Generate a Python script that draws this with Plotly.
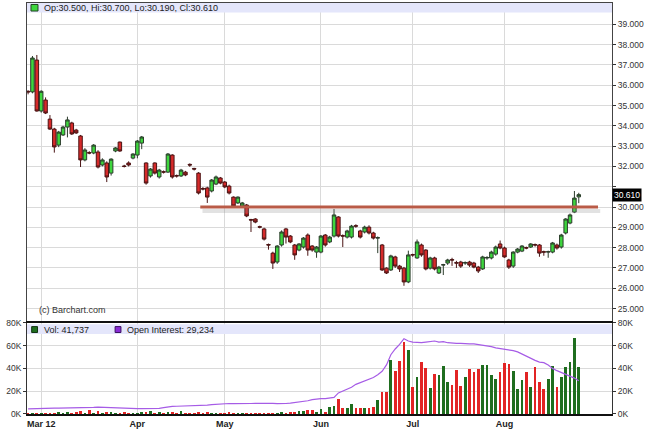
import numpy as np
import pandas as pd
import plotly.graph_objects as go

# trading days shown (Feb 27 - Aug 24 2012, exchange holidays removed)
trade_days = pd.bdate_range('2012-02-27', '2012-08-24')
trade_days = trade_days.drop(pd.to_datetime(['2012-04-06', '2012-05-28', '2012-07-04']))

month_starts = ['2012-03-01', '2012-04-02', '2012-05-01', '2012-06-01', '2012-07-02', '2012-08-01']
month_labels = ['Mar 12', 'Apr', 'May', 'Jun', 'Jul', 'Aug']

price_ticks = [25, 26, 27, 28, 29, 30, 31, 32, 33, 34, 35, 36, 37, 38, 39]
vol_ticks = [0, 20, 40, 60, 80]

# daily prices
opens = [35.70, 35.67, 37.24, 34.73, 35.27, 34.33, 33.84, 33.05, 33.55, 33.94,
         34.14, 33.79, 33.50, 32.32, 32.68, 32.66, 32.71, 32.07, 32.17, 31.67,
         32.76, 33.20, 32.02, 32.17, 32.41, 32.56, 33.15, 32.17, 31.53, 32.17,
         31.48, 31.74, 31.72, 32.56, 31.55, 31.53, 31.72, 32.10, 31.90, 31.67,
         30.91, 30.94, 30.79, 31.13, 31.43, 31.23, 31.03, 30.49, 30.20, 30.05,
         30.10, 29.38, 29.41, 29.03, 28.92, 28.15, 27.73, 27.29, 28.13, 28.92,
         28.57, 28.13, 27.88, 28.03, 28.62, 28.08, 27.78, 27.78, 28.62, 28.28,
         28.57, 29.51, 28.59, 28.52, 28.52, 29.08, 28.82, 28.77, 29.01, 28.72,
         28.47, 28.13, 26.99, 26.90, 27.54, 27.09, 26.99, 26.31, 27.66, 27.49,
         28.13, 27.88, 26.99, 27.49, 26.75, 27.14, 27.24, 27.41, 27.26, 27.29,
         27.24, 27.29, 27.24, 27.04, 26.95, 27.49, 27.49, 27.68, 28.18, 27.98,
         27.39, 27.09, 27.78, 27.83, 28.00, 28.03, 28.15, 28.13, 27.80, 27.78,
         27.78, 28.13, 28.03, 28.72, 29.21, 29.75, 30.50]
highs = [35.75, 37.44, 37.49, 35.75, 35.40, 34.53, 33.90, 33.75, 34.00, 34.45,
         34.20, 33.85, 33.55, 32.90, 32.75, 33.10, 32.80, 32.40, 32.25, 32.40,
         32.95, 33.22, 32.08, 32.25, 32.65, 33.30, 33.50, 32.20, 31.92, 32.20,
         31.88, 31.80, 32.66, 32.60, 31.60, 31.88, 31.78, 32.15, 31.93, 31.72,
         30.98, 31.00, 31.38, 31.55, 31.48, 31.28, 31.10, 30.52, 30.52, 30.25,
         30.15, 29.42, 29.45, 29.08, 28.98, 28.20, 27.80, 28.12, 28.85, 28.97,
         28.62, 28.18, 28.22, 28.52, 28.70, 28.12, 28.08, 28.62, 28.67, 28.58,
         29.90, 29.55, 28.65, 28.88, 29.12, 29.15, 28.88, 29.08, 29.10, 28.78,
         28.55, 28.18, 27.03, 27.65, 27.60, 27.15, 27.05, 27.85, 27.70, 28.40,
         28.20, 27.92, 27.55, 27.55, 27.10, 27.20, 27.45, 27.50, 27.35, 27.35,
         27.32, 27.35, 27.30, 27.10, 27.60, 27.58, 27.85, 28.10, 28.35, 28.05,
         27.45, 27.82, 27.98, 28.12, 28.05, 28.22, 28.20, 28.18, 27.85, 27.85,
         28.28, 28.20, 28.68, 29.45, 29.68, 30.79, 30.70]
lows = [35.55, 35.60, 34.70, 34.65, 34.58, 33.80, 32.68, 32.95, 33.50, 33.43,
        33.55, 33.60, 31.97, 32.25, 32.60, 32.60, 31.90, 32.00, 31.23, 31.55,
        32.70, 32.72, 31.95, 32.00, 32.35, 32.40, 32.85, 31.10, 31.45, 31.60,
        31.40, 31.65, 31.68, 31.40, 31.45, 31.48, 31.52, 31.98, 31.80, 30.62,
        30.82, 30.20, 30.72, 31.08, 31.12, 30.93, 30.62, 30.00, 30.15, 30.00,
        29.50, 28.77, 29.20, 28.95, 28.35, 27.90, 26.95, 27.20, 28.05, 28.20,
        28.22, 27.40, 27.82, 27.95, 27.60, 27.80, 27.50, 27.72, 28.05, 28.22,
        28.50, 28.50, 28.03, 28.45, 28.45, 28.98, 28.45, 28.70, 28.65, 28.40,
        27.73, 26.85, 26.70, 26.85, 27.00, 26.80, 26.12, 26.25, 27.55, 27.45,
        27.55, 26.88, 26.92, 26.88, 26.70, 26.65, 27.15, 27.10, 27.00, 27.00,
        27.15, 27.05, 26.98, 26.75, 26.90, 27.40, 27.42, 27.60, 27.92, 27.50,
        26.95, 27.00, 27.72, 27.78, 27.92, 27.98, 28.05, 27.55, 27.60, 27.50,
        27.72, 27.90, 27.95, 28.65, 29.15, 29.70, 30.19]
closes = [35.67, 37.34, 34.73, 35.70, 34.63, 33.84, 32.96, 33.69, 33.94, 34.29,
          33.60, 33.65, 32.32, 32.81, 32.66, 33.05, 31.97, 32.32, 31.48, 32.36,
          32.91, 32.76, 32.00, 32.07, 32.61, 33.25, 33.45, 31.18, 31.87, 31.67,
          31.82, 31.72, 32.61, 31.48, 31.53, 31.82, 31.58, 32.07, 31.87, 30.69,
          30.89, 30.49, 31.33, 31.48, 31.18, 30.99, 30.69, 30.05, 30.49, 30.20,
          29.56, 29.36, 29.26, 29.01, 28.42, 28.13, 27.24, 28.08, 28.77, 28.52,
          28.28, 27.64, 28.18, 28.47, 27.88, 27.88, 28.03, 28.57, 28.13, 28.52,
          29.61, 28.57, 28.57, 28.82, 29.06, 29.06, 28.52, 29.01, 28.72, 28.47,
          28.49, 26.90, 26.75, 27.59, 27.09, 26.95, 26.31, 27.64, 27.64, 28.28,
          27.64, 26.95, 27.49, 26.95, 27.04, 27.16, 27.39, 27.39, 27.24, 27.09,
          27.26, 27.14, 27.04, 26.85, 27.54, 27.51, 27.78, 28.03, 27.98, 27.54,
          27.04, 27.78, 27.93, 28.08, 27.98, 28.18, 28.13, 27.73, 27.78, 27.80,
          28.23, 27.98, 28.62, 29.41, 29.61, 30.44, 30.61]

# volume and open interest, thousands of contracts
volume_k = [0.5, 0.8, 1.0, 1.2, 0.8, 1.5, 1.2, 2.0, 1.5, 2.0,
            1.5, 1.8, 2.6, 1.5, 3.5, 1.5, 2.5, 1.5, 1.8, 2.0,
            1.2, 1.5, 2.0, 1.0, 1.2, 1.5, 2.0, 2.2, 2.9, 1.5,
            1.8, 1.2, 2.0, 2.0, 1.5, 3.0, 1.5, 1.0, 1.2, 2.0,
            1.2, 1.8, 1.5, 1.5, 1.2, 1.2, 1.8, 1.5, 1.2, 1.0,
            1.5, 1.2, 1.2, 1.0, 1.5, 1.2, 1.5, 1.0, 2.0, 1.5,
            1.8, 2.2, 3.0, 2.5, 4.0, 3.5, 2.0, 4.7, 1.8, 6.7,
            7.3, 13.2, 5.9, 5.9, 9.1, 5.9, 5.9, 5.9, 5.9, 6.7,
            12.6, 19.1, 19.9, 47.8, 37.5, 46.9, 63.0, 56.0, 24.3, 32.6,
            45.5, 40.5, 22.9, 35.2, 34.0, 41.9, 27.9, 25.8, 39.0, 24.9,
            32.3, 39.6, 36.7, 39.6, 42.8, 42.8, 34.6, 30.8, 36.7, 44.9,
            44.0, 38.1, 22.3, 30.2, 36.7, 24.3, 41.3, 28.7, 22.3, 31.1,
            41.9, 24.3, 32.6, 41.3, 45.7, 66.9, 41.737]
open_int_k = [4.5, 4.7, 4.8, 5.0, 5.0, 5.1, 5.1, 5.2, 5.2, 5.2,
              5.3, 5.3, 5.4, 5.5, 5.6, 5.8, 6.0, 5.8, 5.6, 5.4,
              5.2, 5.0, 4.9, 4.8, 4.8, 4.8, 4.7, 4.7, 4.8, 4.9,
              5.0, 5.6, 6.3, 6.7, 6.8, 6.9, 7.0, 7.1, 7.2, 7.3,
              7.5, 7.8, 8.3, 8.6, 8.8, 9.0, 9.2, 9.1, 9.0, 8.9,
              9.0, 9.2, 9.4, 9.5, 9.7, 9.6, 9.3, 9.1, 9.0, 9.2,
              9.6, 10.0, 10.3, 10.8, 11.6, 12.6, 13.3, 13.5, 13.5, 13.8,
              14.5, 18.5, 20.0, 21.5, 23.5, 26.0, 27.5, 29.0, 30.0, 32.0,
              34.5, 37.5, 43.0, 52.0, 57.0, 61.0, 66.0, 64.0, 63.0, 62.5,
              62.5, 63.0, 63.5, 64.0, 63.0, 63.5, 62.5, 62.0, 62.0, 62.0,
              61.5, 61.5, 61.5, 61.0, 60.5, 60.0, 59.0, 58.0, 57.5, 57.0,
              56.5, 55.5, 54.5, 52.5, 50.5, 48.5, 47.0, 45.5, 45.0, 43.0,
              40.0, 38.0, 36.5, 35.0, 33.5, 31.5, 29.234]

# drawn resistance line (price level, start/end in trading-day index)
resistance_level = 30.0
resistance_from = 39.4
resistance_to = 130.4

GREEN = '#3ed63e'
RED = '#d62a2a'
VOL_GREEN = '#1f6e1f'
VOL_RED = '#e22424'
OI_COLOR = '#a65ce6'
GRID = '#dadada'
FONT = 'Liberation Sans'

x = np.arange(len(trade_days))
tick_idx = [trade_days.get_loc(pd.Timestamp(d)) for d in month_starts]
vol_colors = [VOL_GREEN if c >= o else VOL_RED for o, c in zip(opens, closes)]

fig = go.Figure()
fig.add_trace(go.Candlestick(
    x=x, open=opens, high=highs, low=lows, close=closes,
    increasing=dict(fillcolor=GREEN, line=dict(color='#2b3b2b', width=1)),
    decreasing=dict(fillcolor=RED, line=dict(color='#4a1414', width=1)),
    whiskerwidth=0, showlegend=False, hoverinfo='skip', xaxis='x', yaxis='y'))
fig.add_trace(go.Bar(x=x, y=volume_k, marker=dict(color=vol_colors, line=dict(width=0)),
                     width=0.62, showlegend=False, xaxis='x2', yaxis='y2'))
fig.add_trace(go.Scatter(x=x, y=open_int_k, mode='lines', line=dict(color=OI_COLOR, width=1.2),
                         showlegend=False, xaxis='x2', yaxis='y3'))

x_range = [-0.25, 133.6]
axis_font = dict(family=FONT, size=8.5, color='#333333')
vol_text = [f'{v}K' for v in vol_ticks]

fig.update_layout(
    width=645, height=438,
    margin=dict(l=27, r=33, t=3, b=24, autoexpand=False),
    paper_bgcolor='white', plot_bgcolor='white',
    bargap=0, boxgap=0.2, boxgroupgap=0,
    xaxis=dict(domain=[0, 1], anchor='y', range=x_range, tickvals=tick_idx,
               showticklabels=False, ticks='', showgrid=True, gridcolor=GRID,
               zeroline=False, showline=True, linecolor='#444444', mirror=True,
               automargin=False, rangeslider=dict(visible=False)),
    xaxis2=dict(domain=[0, 1], anchor='y2', matches='x', range=x_range, tickvals=tick_idx,
                ticktext=month_labels, ticks='', automargin=False,
                tickfont=dict(family=FONT, size=9, color='#222222', weight='bold'),
                showgrid=True, gridcolor=GRID, zeroline=False,
                showline=True, linecolor='#111111', linewidth=2, mirror=True),
    yaxis=dict(domain=[0.226, 1], anchor='x', side='right', range=[24.38, 40.05],
               tickvals=price_ticks,
               ticktext=['' if v == 31 else f'{v:.3f}' for v in price_ticks],
               ticks='outside', ticklen=3, tickcolor='#333333', tickfont=axis_font,
               showgrid=True, gridcolor=GRID, zeroline=False, automargin=False,
               showline=True, linecolor='#444444', mirror=True),
    yaxis2=dict(domain=[0, 0.222], anchor='x2', side='left', range=[0, 80],
                tickvals=vol_ticks, ticktext=vol_text, ticks='outside', ticklen=3,
                tickcolor='#333333', tickfont=axis_font, automargin=False,
                showgrid=True, gridcolor=GRID, zeroline=False,
                showline=True, linecolor='#333333', mirror=True),
    yaxis3=dict(overlaying='y2', anchor='x2', side='right', range=[0, 80],
                tickvals=vol_ticks, ticktext=vol_text, ticks='outside', ticklen=3,
                tickcolor='#333333', tickfont=axis_font, showgrid=False,
                zeroline=False, automargin=False),
)

shapes = [
    # legend strips
    dict(type='rect', xref='x domain', yref='y domain', x0=0, x1=1, y0=0.970, y1=1,
         fillcolor='#e4e6fb', line=dict(width=0), layer='above'),
    dict(type='rect', xref='x2 domain', yref='y2 domain', x0=0, x1=1, y0=0.876, y1=0.985,
         fillcolor='#e4e6fb', line=dict(width=0), layer='above'),
    # legend squares
    dict(type='rect', xref='x domain', yref='y domain', x0=0.0068, x1=0.0188, y0=0.9748, y1=0.9953,
         fillcolor=GREEN, line=dict(color='#224422', width=1), layer='above'),
    dict(type='rect', xref='x2 domain', yref='y2 domain', x0=0.0080, x1=0.0180, y0=0.893, y1=0.958,
         fillcolor=VOL_GREEN, line=dict(color='#113311', width=1), layer='above'),
    dict(type='rect', xref='x2 domain', yref='y2 domain', x0=0.1506, x1=0.1606, y0=0.893, y1=0.958,
         fillcolor='#8a2bd6', line=dict(color='#3a1060', width=1), layer='above'),
    # resistance line with its soft shadow
    dict(type='line', xref='x', yref='y', x0=resistance_from + 0.5, x1=resistance_to + 0.5,
         y0=resistance_level - 0.2, y1=resistance_level - 0.2,
         line=dict(color='rgba(140,140,140,0.25)', width=4)),
    dict(type='line', xref='x', yref='y', x0=resistance_from, x1=resistance_to,
         y0=resistance_level, y1=resistance_level,
         line=dict(color='#b95b47', width=3)),
]
fig.update_layout(shapes=shapes)

legend_font = dict(family=FONT, size=9, color='#222222')
fig.add_annotation(xref='x domain', yref='y domain', x=0.0256, y=0.985, xanchor='left', yanchor='middle',
                   text=f'Op:{opens[-1]:.3f}, Hi:{highs[-1]:.3f}, Lo:{lows[-1]:.3f}, Cl:{closes[-1]:.3f}',
                   showarrow=False, font=legend_font)
fig.add_annotation(xref='x2 domain', yref='y2 domain', x=0.0256, y=0.925, xanchor='left', yanchor='middle',
                   text=f'Vol: {volume_k[-1] * 1000:,.0f}', showarrow=False, font=legend_font)
fig.add_annotation(xref='x2 domain', yref='y2 domain', x=0.1675, y=0.925, xanchor='left', yanchor='middle',
                   text=f'Open Interest: {open_int_k[-1] * 1000:,.0f}', showarrow=False, font=legend_font)
fig.add_annotation(xref='x domain', yref='y domain', x=0.017, y=0.035, xanchor='left', yanchor='middle',
                   text='(c) Barchart.com', showarrow=False, font=dict(family=FONT, size=9, color='#333333'))
# last price marker on the axis
fig.add_annotation(xref='paper', yref='y', x=1, y=closes[-1], xanchor='left', yanchor='middle',
                   text=f'{closes[-1]:.3f}', showarrow=False, bgcolor='#000000', borderpad=1,
                   font=dict(family=FONT, size=8.5, color='white'))

# drop the browser's default page margin so the chart sits at the window's corner
fig.write_html('out.html', config={'displayModeBar': False},
               post_script="document.body.style.margin='0';")
